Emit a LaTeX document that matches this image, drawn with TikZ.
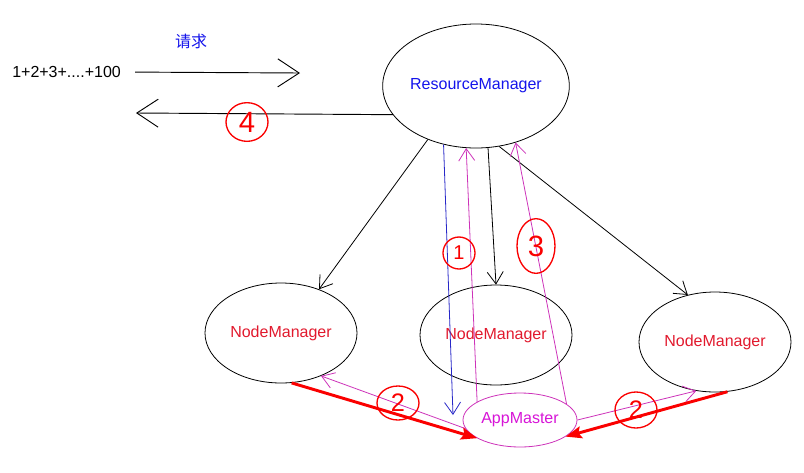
\documentclass[tikz,border=0pt]{standalone}
\usepackage{fontspec}
\setmainfont{Liberation Sans}
\newfontfamily\cjkfont{Noto Sans CJK SC}
\usetikzlibrary{shapes.geometric,arrows.meta}
\definecolor{rmblue}{RGB}{20,20,235}
\definecolor{lineblue}{RGB}{40,40,200}
\definecolor{nmred}{RGB}{225,25,45}
\definecolor{ammag}{RGB}{215,20,215}
\definecolor{linemag}{RGB}{205,50,185}
\definecolor{markred}{RGB}{250,0,0}
\tikzset{
  oval/.style={draw, ellipse, inner sep=0pt, line width=0.6pt},
  nmoval/.style={oval, minimum width=114pt, minimum height=75pt, text=nmred},
  barb/.style={-{Straight Barb[length=9pt,width=12pt]}, line width=0.6pt},
  bigbarb/.style={-{Straight Barb[length=16pt,width=21pt]}, line width=0.7pt},
  redarr/.style={-{Stealth[length=12pt,width=9pt,inset=2pt]}, draw=markred, line width=2.2pt},
  marker/.style={draw=markred, ellipse, inner sep=0pt, line width=1pt, text=markred},
}

\begin{document}
\begin{tikzpicture}[x=0.75pt,y=0.75pt,yscale=-1,xscale=1,font=\fontsize{12}{14}\selectfont]
\useasboundingbox (0,0) rectangle (804,472);

%Shape: Ellipse [ResourceManager]
\node[oval, minimum width=140pt, minimum height=93pt, text=rmblue] (rm) at (476,86) {ResourceManager};
%Shape: Ellipse [NodeManager x3]
\node[nmoval] (nm1) at (281,333) {NodeManager};
\node[nmoval] (nm2) at (496,335) {NodeManager};
\node[nmoval] (nm3) at (715,342) {NodeManager};
%Shape: Ellipse [AppMaster]
\node[oval, minimum width=85.5pt, minimum height=40.5pt, draw=linemag, text=ammag] (am) at (520,420) {AppMaster};

% Text Node
\node[anchor=west, inner sep=0pt] (sum) at (12,72) {1+2+3+....+100};
% Text Node
\node[text=rmblue, font=\fontsize{12}{14}\cjkfont] (req) at (191,41) {请求};

\coordinate (reqend) at (300,73);
\coordinate (retend) at (136,113);
\coordinate (amtip) at (453,415);

%Straight Lines [client]
\draw[bigbarb, shorten <=10.5pt] (sum.east) -- (reqend);
\draw[bigbarb] (rm.199) -- (retend);
%Straight Lines [RM to NM]
\draw[barb] (rm.228) -- (nm1.49);
\draw[barb] (rm.281) -- (nm2.90);
\draw[barb] (rm.291) -- (nm3.120);
%Straight Lines [RM and AppMaster]
\draw[barb, lineblue] (rm.241) -- (amtip);
\draw[barb, linemag] (am.157) -- (rm.261);
\draw[barb, linemag] (am.19) -- (rm.305);
%Straight Lines [AppMaster and NM]
\draw[barb, linemag] (am.189) -- (nm1.313);
\draw[barb, linemag] (am.0) -- (nm3.249);
\draw[redarr] (nm1.282) -- (am.203);
\draw[redarr] (nm3.284) -- (am.340);

% Markers
\node[marker, minimum width=31.5pt, minimum height=29pt, font=\fontsize{22}{22}\selectfont] (c4) at (247,122) {4};
\node[marker, minimum width=24pt, minimum height=24pt, font=\fontsize{15}{15}\selectfont] (c1) at (459,253) {1};
\node[marker, minimum width=28.5pt, minimum height=41pt, font=\fontsize{22}{22}\selectfont] (c3) at (536,246) {3};
\node[marker, minimum width=31.5pt, minimum height=25.5pt, font=\fontsize{19}{19}\selectfont] (c2a) at (398,403) {2};
\node[marker, minimum width=31.5pt, minimum height=27pt, font=\fontsize{19}{19}\selectfont] (c2b) at (636,410) {2};

\end{tikzpicture}
\end{document}
